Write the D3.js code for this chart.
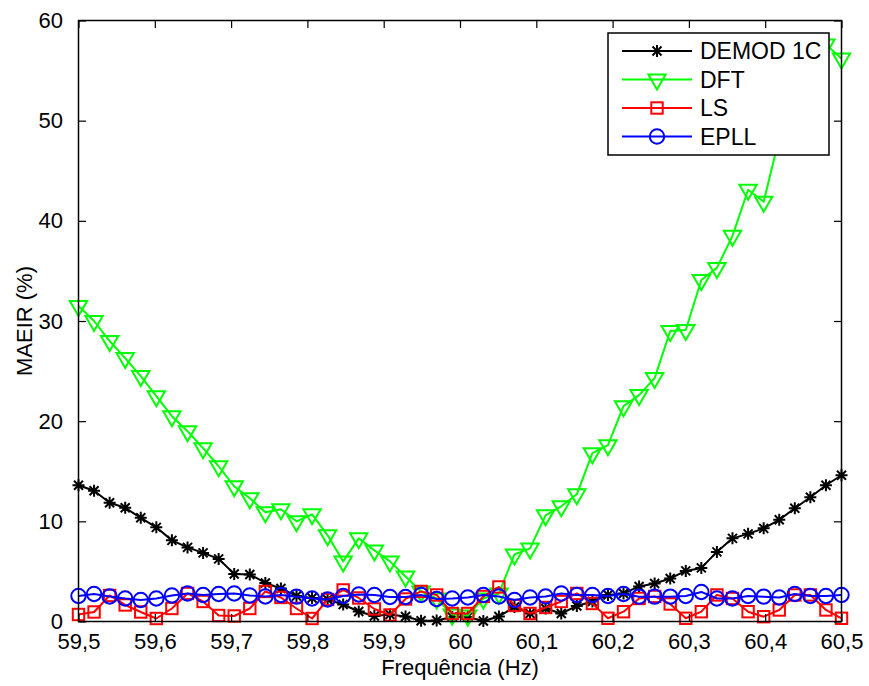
<!DOCTYPE html>
<html>
<head>
<meta charset="utf-8">
<script src="https://cdn.jsdelivr.net/npm/d3@7"></script>
<style>
  html, body { margin: 0; padding: 0; background: #fff; }
  svg { display: block; font-family: "Liberation Sans", Arial, Helvetica, sans-serif; }
</style>
</head>
<body>
<svg id="chart" width="869" height="686"></svg>
<script>
// Frequency grid (Hz): 50 points from 59.5 to 60.5
const freqs = [59.5, 59.5204, 59.5408, 59.5612, 59.5816, 59.6020, 59.6224, 59.6429, 59.6633, 59.6837,
  59.7041, 59.7245, 59.7449, 59.7653, 59.7857, 59.8061, 59.8265, 59.8469, 59.8673, 59.8878,
  59.9082, 59.9286, 59.9490, 59.9694, 59.9898, 60.0102, 60.0306, 60.0510, 60.0714, 60.0918,
  60.1122, 60.1327, 60.1531, 60.1735, 60.1939, 60.2143, 60.2347, 60.2551, 60.2755, 60.2959,
  60.3163, 60.3367, 60.3571, 60.3776, 60.3980, 60.4184, 60.4388, 60.4592, 60.4796, 60.5];

// MAEIR (%) per method
const demod1c = [13.6, 13.05, 11.85, 11.35, 10.35, 9.4, 8.1, 7.4, 6.85, 6.25,
  4.75, 4.7, 3.85, 3.3, 2.55, 2.35, 2.2, 1.7, 1.0, 0.55,
  0.7, 0.5, 0.08, 0.1, 0.45, 0.45, 0.05, 0.5, 1.45, 0.8,
  1.3, 0.8, 1.55, 2.0, 2.65, 2.8, 3.5, 3.8, 4.3, 5.05,
  5.35, 6.95, 8.3, 8.75, 9.3, 10.15, 11.3, 12.4, 13.6, 14.6];

const dft = [31.5, 30.0, 28.0, 26.3, 24.5, 22.5, 20.5, 19.0, 17.3, 15.5,
  13.5, 12.3, 10.9, 11.2, 10.0, 10.7, 8.6, 6.0, 8.3, 7.1,
  6.0, 4.5, 3.0, 2.3, 0.7, 0.6, 2.3, 2.8, 6.7, 7.3,
  10.6, 11.5, 12.7, 16.8, 17.6, 21.5, 22.6, 24.3, 29.0, 29.1,
  34.1, 35.3, 38.5, 43.1, 41.9, 48.3, 51.2, 53.8, 57.6, 56.2];

const ls = [0.7, 0.95, 2.6, 1.65, 0.95, 0.3, 1.3, 2.8, 2.0, 0.6,
  0.55, 1.3, 3.0, 2.4, 1.3, 0.3, 2.2, 3.15, 2.35, 1.25,
  0.65, 2.25, 3.0, 2.65, 0.8, 0.8, 2.5, 3.45, 1.6, 0.8,
  1.4, 2.0, 2.8, 1.8, 0.32, 0.98, 2.3, 2.5, 1.75, 0.32,
  0.98, 2.65, 2.3, 0.98, 0.48, 1.15, 2.65, 2.65, 1.15, 0.32];

const epll = [2.55, 2.75, 2.5, 2.3, 2.15, 2.3, 2.6, 2.8, 2.65, 2.75,
  2.8, 2.6, 2.5, 2.65, 2.48, 2.3, 2.2, 2.55, 2.7, 2.65,
  2.45, 2.45, 2.65, 2.25, 2.3, 2.4, 2.65, 2.5, 2.15, 2.4,
  2.5, 2.8, 2.65, 2.65, 2.55, 2.75, 2.48, 2.48, 2.48, 2.55,
  2.95, 2.3, 2.3, 2.55, 2.48, 2.4, 2.75, 2.55, 2.55, 2.65];

const seriesNames = ["DEMOD 1C", "DFT", "LS", "EPLL"];
const seriesColors = ["#000000", "#00ff00", "#ff0000", "#0000ff"];
const seriesMarkers = ["star", "triangleDown", "square", "circle"];
const seriesValues = [demod1c, dft, ls, epll];

const xTicks = [59.5, 59.6, 59.7, 59.8, 59.9, 60.0, 60.1, 60.2, 60.3, 60.4, 60.5];
const xTickLabels = ["59,5", "59,6", "59,7", "59,8", "59,9", "60", "60,1", "60,2", "60,3", "60,4", "60,5"];
const yTicks = [0, 10, 20, 30, 40, 50, 60];

const xLabel = "Frequência (Hz)";
const yLabel = "MAEIR (%)";

// ---- layout ----
const plot = { left: 78.5, right: 841.5, top: 20.5, bottom: 621.5 };
const fontSize = 22;
const titleSize = 22;
const tickLen = 7.5;

const svg = d3.select("#chart");
const x = d3.scaleLinear().domain([59.5, 60.5]).range([plot.left, plot.right]);
const y = d3.scaleLinear().domain([0, 60]).range([plot.bottom, plot.top]);

// ---- marker drawing ----
function drawMarker(g, type, color) {
  if (type === "star") {
    const s = 6;
    const d = `M${-s},0L${s},0M0,${-s}L0,${s}M${-s*0.75},${-s*0.75}L${s*0.75},${s*0.75}M${-s*0.75},${s*0.75}L${s*0.75},${-s*0.75}`;
    g.append("path").attr("d", d).attr("stroke", color).attr("stroke-width", 2).attr("fill", "none");
  } else if (type === "triangleDown") {
    const r = 10, h = r * Math.sqrt(3) / 2;
    g.append("path").attr("d", `M${-h},${-r/2}L${h},${-r/2}L0,${r}Z`)
      .attr("stroke", color).attr("stroke-width", 2).attr("fill", "none").attr("stroke-linejoin", "miter");
  } else if (type === "square") {
    const s = 5.7;
    g.append("rect").attr("x", -s).attr("y", -s).attr("width", 2*s).attr("height", 2*s)
      .attr("stroke", color).attr("stroke-width", 2).attr("fill", "none");
  } else if (type === "circle") {
    g.append("circle").attr("r", 7.2)
      .attr("stroke", color).attr("stroke-width", 2).attr("fill", "none");
  }
}

// ---- series ----
const line = d3.line().x(d => x(d[0])).y(d => y(d[1]));
const plotArea = svg.append("g");

seriesValues.forEach((vals, k) => {
  const pts = freqs.map((f, i) => [f, vals[i]]);
  const g = plotArea.append("g");
  g.append("path").datum(pts).attr("d", line)
    .attr("fill", "none").attr("stroke", seriesColors[k]).attr("stroke-width", 2)
    .attr("stroke-linejoin", "round");
  pts.forEach(p => {
    const m = g.append("g").attr("transform", `translate(${x(p[0])},${y(p[1])})`);
    drawMarker(m, seriesMarkers[k], seriesColors[k]);
  });
});

// ---- axes box with inward ticks ----
const axisColor = "#000";
const axes = svg.append("g");

const xAxisBottom = d3.axisBottom(x).tickValues(xTicks).tickSizeInner(-tickLen).tickSizeOuter(0)
  .tickFormat((d, i) => xTickLabels[i]).tickPadding(tickLen + 4);
const xAxisTop = d3.axisTop(x).tickValues(xTicks).tickSizeInner(-tickLen).tickSizeOuter(0).tickFormat("");
const yAxisLeft = d3.axisLeft(y).tickValues(yTicks).tickSizeInner(-tickLen).tickSizeOuter(0)
  .tickFormat(d3.format("d")).tickPadding(tickLen + 8);
const yAxisRight = d3.axisRight(y).tickValues(yTicks).tickSizeInner(-tickLen).tickSizeOuter(0).tickFormat("");

function styleAxis(sel) {
  sel.select(".domain").remove();
  sel.selectAll(".tick line").attr("stroke", axisColor).attr("stroke-width", 1.2);
  sel.selectAll(".tick text").attr("fill", "#000").style("font-size", fontSize + "px")
    .style("font-family", '"Liberation Sans", Arial, sans-serif');
}

axes.append("g").attr("transform", `translate(0,${plot.bottom})`).call(xAxisBottom).call(styleAxis);
axes.append("g").attr("transform", `translate(0,${plot.top})`).call(xAxisTop).call(styleAxis);
axes.append("g").attr("transform", `translate(${plot.left},0)`).call(yAxisLeft).call(styleAxis);
axes.append("g").attr("transform", `translate(${plot.right},0)`).call(yAxisRight).call(styleAxis);

axes.append("rect")
  .attr("x", plot.left).attr("y", plot.top)
  .attr("width", plot.right - plot.left).attr("height", plot.bottom - plot.top)
  .attr("fill", "none").attr("stroke", axisColor).attr("stroke-width", 1.5);

// ---- axis titles ----
svg.append("text")
  .attr("x", (plot.left + plot.right) / 2).attr("y", 675)
  .attr("text-anchor", "middle").style("font-size", titleSize + "px").text(xLabel);

svg.append("text")
  .attr("transform", `translate(32,${(plot.top + plot.bottom) / 2}) rotate(-90)`)
  .attr("text-anchor", "middle").style("font-size", titleSize + "px").text(yLabel);

// ---- legend ----
const legend = { x: 608, y: 33, w: 221, h: 122 };
const lg = svg.append("g");
lg.append("rect").attr("x", legend.x).attr("y", legend.y).attr("width", legend.w).attr("height", legend.h)
  .attr("fill", "#fff").attr("stroke", "#000").attr("stroke-width", 1.5);

const rowY = [51, 79.5, 108, 136.5];
seriesNames.forEach((name, k) => {
  const r = lg.append("g").attr("transform", `translate(0,${rowY[k]})`);
  r.append("line").attr("x1", 622).attr("x2", 692).attr("y1", 0).attr("y2", 0)
    .attr("stroke", seriesColors[k]).attr("stroke-width", 2);
  const m = r.append("g").attr("transform", "translate(657,0)");
  drawMarker(m, seriesMarkers[k], seriesColors[k]);
  r.append("text").attr("x", 700).attr("y", 0).attr("dy", "0.35em")
    .style("font-size", "23px").text(name);
});
</script>
</body>
</html>
